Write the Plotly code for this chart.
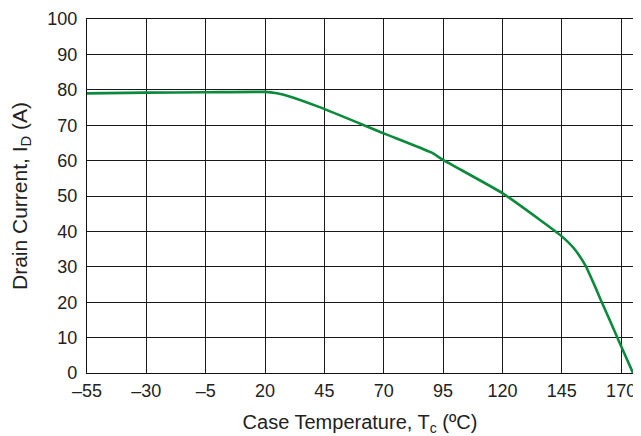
import plotly.graph_objects as go

# Data
temp_c = [-55, -30, -5, 20, 25, 30, 43, 70, 90, 95, 120, 135.7, 145, 150, 155, 162, 169.4, 175]
drain_a = [79.0, 79.2, 79.3, 79.4, 79.0, 78.2, 75.1, 67.7, 62.3, 60.2, 50.8, 43.3, 38.6, 35.3, 30.3, 19.8, 8.5, 0.0]

x_tickvals = [-55, -30, -5, 20, 45, 70, 95, 120, 145, 170]
x_ticktext = ["–55", "–30", "–5", "20", "45", "70", "95", "120", "145", "170"]
y_tickvals = [0, 10, 20, 30, 40, 50, 60, 70, 80, 90, 100]
y_ticktext = [str(v) for v in y_tickvals]

FONT = "Liberation Sans, Arial, sans-serif"

fig = go.Figure()
fig.add_trace(go.Scatter(
    x=temp_c, y=drain_a, mode="lines",
    line=dict(color="#0b8a3c", width=2.6, shape="spline", smoothing=0.5),
    showlegend=False, hoverinfo="skip",
))

axis_common = dict(
    showgrid=True, gridcolor="#1a1a1a", gridwidth=1.2,
    showline=True, linecolor="#111111", linewidth=1.4, mirror=True,
    zeroline=False, automargin=False,
    ticks="outside", tickcolor="rgba(0,0,0,0)",
    tickfont=dict(family=FONT, size=18, color="#222222"),
)

# The page body adds an 8px offset, so the figure is sized to fit the 641x436 window
fig.update_layout(
    width=633, height=428,
    margin=dict(l=79, r=8, t=11, b=63),
    paper_bgcolor="white", plot_bgcolor="white",
    font=dict(family=FONT, color="#222222"),
    xaxis=dict(
        range=[-55, 175], tickmode="array", tickvals=x_tickvals, ticktext=x_ticktext,
        ticklen=1,
        title=dict(text="Case Temperature, T<sub>c</sub> (ºC)", font=dict(family=FONT, size=20, color="#222222")),
        **axis_common,
    ),
    yaxis=dict(
        range=[0, 100], tickmode="array", tickvals=y_tickvals, ticktext=y_ticktext,
        ticklen=5,
        title=dict(text="Drain Current, I<sub>D</sub> (A)", font=dict(family=FONT, size=21, color="#222222")),
        **axis_common,
    ),
)

fig.write_html("out.html")
